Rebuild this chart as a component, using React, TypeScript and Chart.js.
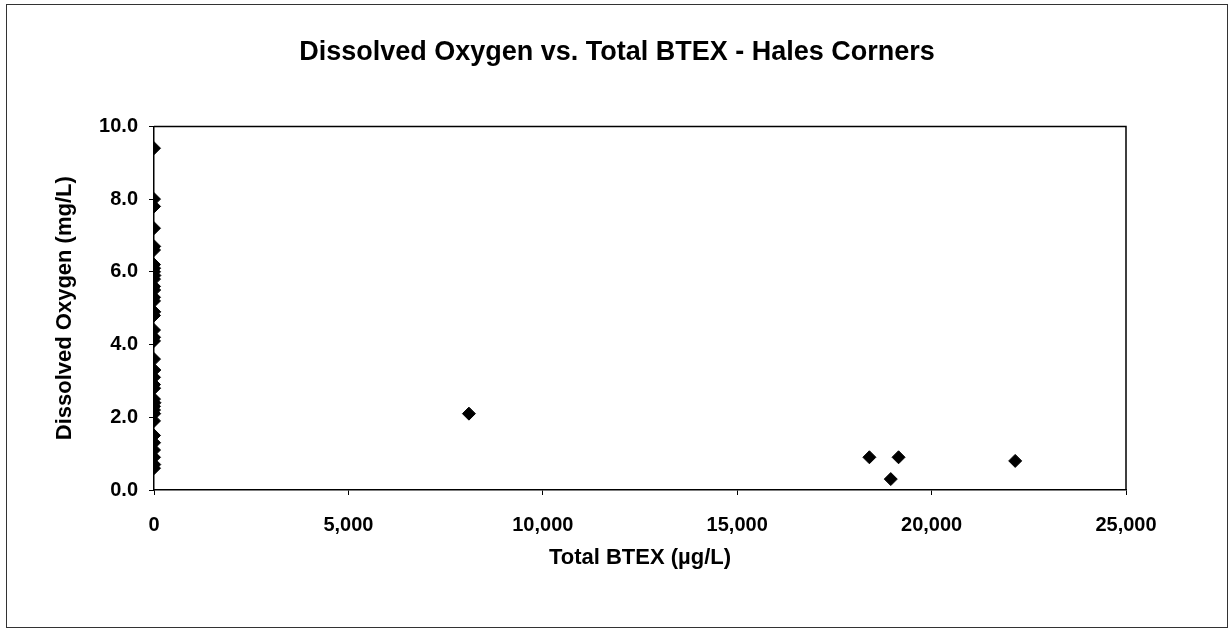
import React, { useEffect, useRef } from "react";
import { Chart, registerables } from "chart.js";

Chart.register(...registerables);

const chartTitle = "Dissolved Oxygen vs. Total BTEX - Hales Corners";
const xAxisTitle = "Total BTEX (µg/L)";
const yAxisTitle = "Dissolved Oxygen (mg/L)";

// Wells with (near) zero BTEX
const lowBtex = [0, 0, 2, 0, 5, 0, 0, 3, 0, 10, 0, 0, 4, 0, 0, 6, 0, 0, 2, 0, 0, 8, 0, 0, 3, 0, 12, 0, 0, 5, 0, 0, 2, 0, 0, 7, 0];
const lowDO = [9.4, 8.0, 7.8, 7.2, 6.7, 6.6, 6.2, 6.1, 6.0, 5.9, 5.8, 5.6, 5.5, 5.3, 5.2, 4.9, 4.8, 4.4, 4.2, 4.1, 3.6, 3.3, 3.1, 2.9, 2.8, 2.5, 2.4, 2.3, 2.2, 2.1, 1.9, 1.5, 1.3, 1.1, 0.9, 0.7, 0.6];

// Wells with high BTEX
const highBtex = [8100, 18400, 19150, 18950, 22150];
const highDO = [2.1, 0.9, 0.9, 0.3, 0.8];

const xTicks = [0, 5000, 10000, 15000, 20000, 25000];
const yTicks = [0, 2, 4, 6, 8, 10];

const FONT = '"Liberation Sans", Arial, sans-serif';

const frameBox = {
  id: "frameBox",
  afterDraw(chart: any) {
    const { ctx, chartArea } = chart;
    ctx.save();
    ctx.strokeStyle = "#000";
    ctx.lineWidth = 1.5;
    ctx.beginPath();
    ctx.moveTo(chartArea.left, chartArea.top);
    ctx.lineTo(chartArea.right, chartArea.top);
    ctx.lineTo(chartArea.right, chartArea.bottom);
    ctx.stroke();
    ctx.restore();
  },
};

export default function App() {
  const ref = useRef<HTMLCanvasElement>(null);

  useEffect(() => {
    if (!ref.current) return;
    const points = [
      ...lowBtex.map((x, i) => ({ x, y: lowDO[i] })),
      ...highBtex.map((x, i) => ({ x, y: highDO[i] })),
    ];
    const chart = new Chart(ref.current, {
      type: "scatter",
      data: {
        datasets: [
          {
            label: "DO",
            data: points,
            pointStyle: "rectRot",
            pointRadius: 6.5,
            backgroundColor: "#000",
            borderColor: "#000",
            borderWidth: 1,
          },
        ],
      },
      options: {
        animation: false,
        responsive: false,
        devicePixelRatio: 1,
        layout: { padding: 0 },
        plugins: {
          legend: { display: false },
          tooltip: { enabled: false },
          title: {
            display: true,
            text: chartTitle,
            color: "#000",
            font: { family: FONT, size: 27, weight: "bold" },
            padding: { top: 31, bottom: 58 },
          },
        },
        scales: {
          x: {
            type: "linear",
            min: 0,
            max: 25000,
            afterBuildTicks: (scale: any) => {
              scale.ticks = xTicks.map((v) => ({ value: v }));
            },
            afterFit: (scale: any) => {
              scale.height = 137;
            },
            ticks: {
              color: "#000",
              font: { family: FONT, size: 20, weight: "bold" },
              padding: 18,
              maxRotation: 0,
              callback: (v: any) => Number(v).toLocaleString("en-US"),
            },
            grid: {
              display: true,
              drawOnChartArea: false,
              drawTicks: true,
              tickLength: 5,
              color: "#000",
              lineWidth: 1,
            },
            border: { display: true, color: "#000", width: 1.5 },
            title: {
              display: true,
              text: xAxisTitle,
              color: "#000",
              font: { family: FONT, size: 22, weight: "bold" },
              padding: { top: 0, bottom: 56 },
            },
          },
          y: {
            type: "linear",
            min: 0,
            max: 10,
            afterBuildTicks: (scale: any) => {
              scale.ticks = yTicks.map((v) => ({ value: v }));
            },
            afterFit: (scale: any) => {
              scale.width = 147;
            },
            ticks: {
              color: "#000",
              font: { family: FONT, size: 20, weight: "bold" },
              padding: 11,
              callback: (v: any) => Number(v).toFixed(1),
            },
            grid: {
              display: true,
              drawOnChartArea: false,
              drawTicks: true,
              tickLength: 5,
              color: "#000",
              lineWidth: 1,
            },
            border: { display: true, color: "#000", width: 1.5 },
            title: {
              display: true,
              text: yAxisTitle,
              color: "#000",
              font: { family: FONT, size: 22, weight: "bold" },
              padding: { top: 45, bottom: 0 },
            },
          },
          yRightSpace: {
            type: "linear",
            position: "right",
            min: 0,
            max: 10,
            display: true,
            afterFit: (scale: any) => {
              scale.width = 101;
            },
            ticks: { display: false },
            grid: { display: false, drawTicks: false },
            border: { display: false },
            title: { display: false },
          },
        },
      },
      plugins: [frameBox],
    });
    return () => chart.destroy();
  }, []);

  return (
    <div
      style={{
        position: "absolute",
        left: 6,
        top: 4,
        width: 1220,
        height: 622,
        border: "1px solid #333",
        background: "#fff",
      }}
    >
      <canvas ref={ref} width={1220} height={622} style={{ display: "block" }} />
    </div>
  );
}
